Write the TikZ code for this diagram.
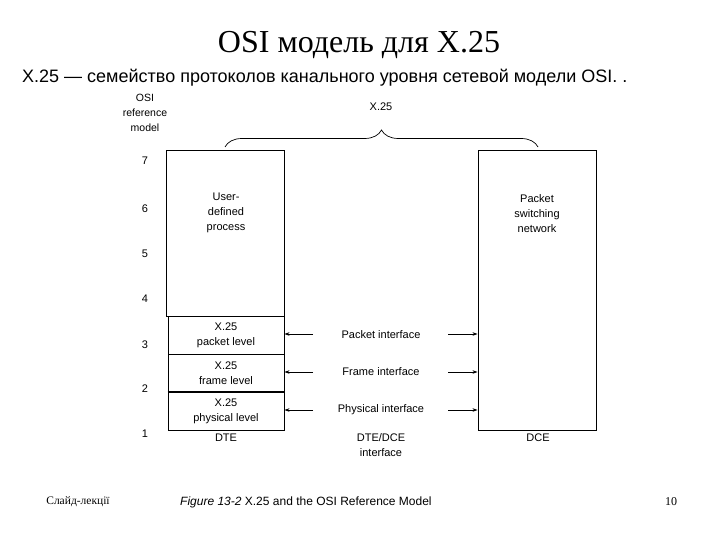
\documentclass[tikz,border=0pt]{standalone}
\usepackage{fontspec}
\setmainfont{Liberation Sans}
\newfontfamily\serifx{Liberation Serif}
\usetikzlibrary{arrows.meta,decorations.pathreplacing}
\begin{document}
\begin{tikzpicture}[x=1pt,y=-1pt,
  txt/.style={font=\fontsize{11}{15}\selectfont, align=center, inner sep=0pt},
  num/.style={font=\fontsize{11}{13}\selectfont, inner sep=0pt},
  box/.style={draw, line width=0.9pt, inner sep=0pt, align=center},
  arr/.style={-{Stealth[length=5pt,width=3.5pt]}, line width=0.7pt}]
\useasboundingbox[fill=white] (0,0) rectangle (720,540);
% titles
\node[font=\serifx\fontsize{32}{34}\selectfont, inner sep=0pt] (title) at (359,45) {OSI модель для X.25};
\node[font=\fontsize{18}{20}\selectfont, anchor=west, inner sep=0pt] (sub) at (22,78) {X.25 — семейство протоколов канального уровня сетевой модели OSI. .};
% headers
\node[txt, font=\fontsize{10.5}{15}\selectfont] (osiref) at (145,113) {OSI\\reference\\model};
\node[txt] (x25h) at (381,107) {X.25};
% boxes
\node[box, minimum width=118pt, minimum height=166pt] (upper) at (225,233) {};
\node[txt] (udp) at (226,213) {User-\\defined\\process};
\node[box, minimum width=116pt, minimum height=38pt] (pkt) at (226,335) {};
\node[box, minimum width=116pt, minimum height=38pt] (frm) at (226,373) {};
\node[box, minimum width=116pt, minimum height=38pt] (phy) at (226,411) {};
\draw[line width=2pt] (frm.south west) -- (frm.south east);
\node[txt] at (pkt) {X.25\\packet level};
\node[txt] at (frm) {X.25\\frame level};
\node[txt] at (phy) {X.25\\physical level};
\node[box, minimum width=118pt, minimum height=280pt] (net) at (537,290) {};
\node[txt] (psn) at (537,214) {Packet\\switching\\network};
% brace
\draw[decorate, decoration={brace, amplitude=17pt, aspect=0.5}, line width=0.7pt] (225,147) -- (538,147);
% layer numbers
\node[num] (n7) at (145,161) {7};
\node[num] (n6) at (145,209) {6};
\node[num] (n5) at (145,254) {5};
\node[num] (n4) at (145,299) {4};
\node[num] (n3) at (145,345) {3};
\node[num] (n2) at (145,389) {2};
\node[num] (n1) at (145,434) {1};
% interfaces
\node[txt] (pi) at (381,335) {Packet interface};
\node[txt] (fi) at (381,372) {Frame interface};
\node[txt] (phi) at (381,410) {Physical interface};
\coordinate (pl) at (313,334);
\coordinate (pr) at (448,334);
\coordinate (fl) at (313,372);
\coordinate (fr) at (448,372);
\coordinate (hl) at (313,410);
\coordinate (hr) at (448,410);
\draw[arr] (pl) -- (pl -| pkt.east);
\draw[arr] (pr) -- (pr -| net.west);
\draw[arr] (fl) -- (fl -| frm.east);
\draw[arr] (fr) -- (fr -| net.west);
\draw[arr] (hl) -- (hl -| phy.east);
\draw[arr] (hr) -- (hr -| net.west);
% bottom labels
\node[txt] (dte) at (226,438) {DTE};
\node[txt] (dtedce) at (381,445) {DTE/DCE\\interface};
\node[txt] (dce) at (538,438) {DCE};
% footer
\node[font=\serifx\fontsize{11.5}{13}\selectfont, inner sep=0pt] (slide) at (78,502) {Слайд-лекції};
\node[font=\fontsize{12}{14}\selectfont, anchor=west, inner sep=0pt] (cap) at (180,502) {\textit{Figure 13-2} X.25 and the OSI Reference Model};
\node[font=\serifx\fontsize{12}{14}\selectfont, inner sep=0pt] (pg) at (671,502) {10};
\end{tikzpicture}
\end{document}
